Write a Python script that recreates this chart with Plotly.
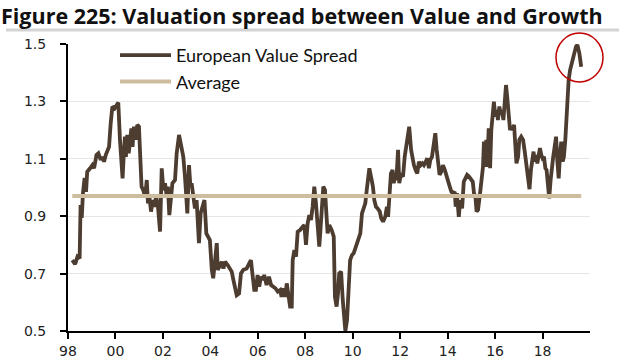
import plotly.graph_objects as go

# ---- data ----
years = [
 1998.18,1998.30,1998.40,1998.49,1998.53,1998.58,1998.63,1998.70,1998.76,1998.81,1998.93,
 1999.03,1999.10,1999.20,1999.28,1999.38,1999.45,1999.52,1999.59,1999.66,1999.73,1999.80,1999.87,1999.97,
 2000.04,2000.12,2000.19,2000.26,2000.30,2000.36,2000.40,2000.44,2000.50,2000.56,2000.61,2000.67,2000.72,2000.78,2000.85,2000.92,2000.99,
 2001.06,2001.10,2001.17,2001.25,2001.32,2001.37,2001.43,2001.50,2001.57,2001.64,2001.71,2001.78,2001.88,2001.95,
 2002.02,2002.09,2002.16,2002.21,2002.27,2002.33,2002.40,2002.51,2002.58,2002.68,2002.76,2002.86,2002.93,2002.99,
 2003.03,2003.10,2003.16,2003.21,2003.28,2003.35,2003.42,2003.47,2003.52,2003.59,2003.66,2003.75,2003.83,2003.91,2003.98,
 2004.06,2004.12,2004.20,2004.27,2004.31,2004.38,2004.48,2004.55,2004.62,2004.73,2004.83,2004.90,2004.97,
 2005.04,2005.11,2005.21,2005.29,2005.39,2005.53,2005.67,2005.71,2005.77,2005.85,2005.92,2005.99,
 2006.06,2006.13,2006.20,2006.27,2006.37,2006.47,2006.56,2006.65,2006.74,2006.84,2006.94,
 2007.00,2007.07,2007.15,2007.22,2007.28,2007.36,2007.43,2007.47,2007.54,2007.61,2007.68,2007.78,2007.89,2007.96,
 2008.03,2008.10,2008.17,2008.24,2008.31,2008.38,2008.45,2008.52,2008.59,2008.63,2008.70,2008.76,2008.83,2008.89,2008.94,
 2009.01,2009.11,2009.20,2009.25,2009.32,2009.38,2009.43,2009.51,2009.58,2009.65,2009.69,2009.76,2009.83,2009.89,2009.97,
 2010.04,2010.11,2010.18,2010.25,2010.32,2010.39,2010.46,2010.53,2010.59,2010.64,2010.70,2010.80,2010.85,2010.91,2010.98,
 2011.05,2011.14,2011.20,2011.28,2011.37,2011.44,2011.49,2011.54,2011.61,2011.68,2011.73,2011.79,2011.84,2011.91,2011.96,
 2012.03,2012.12,2012.19,2012.26,2012.33,2012.38,2012.46,2012.51,2012.58,2012.65,2012.72,2012.79,2012.87,2012.94,
 2013.00,2013.08,2013.14,2013.21,2013.27,2013.34,2013.41,2013.48,2013.54,2013.59,2013.66,2013.73,2013.80,2013.88,2013.95,
 2014.02,2014.09,2014.16,2014.23,2014.30,2014.34,2014.39,2014.47,2014.53,2014.61,2014.68,2014.74,2014.82,2014.90,
 2015.06,2015.11,2015.17,2015.22,2015.28,2015.35,2015.42,2015.49,2015.53,2015.59,2015.63,2015.67,2015.73,2015.79,2015.84,2015.90,2015.95,
 2016.01,2016.07,2016.12,2016.18,2016.24,2016.29,2016.35,2016.40,2016.46,2016.51,2016.57,2016.63,2016.68,2016.74,2016.80,2016.85,2016.90,2016.97,
 2017.02,2017.10,2017.18,2017.25,2017.32,2017.39,2017.45,2017.51,2017.56,2017.62,2017.67,2017.73,2017.78,2017.84,2017.89,2017.95,
 2018.00,2018.06,2018.12,2018.17,2018.23,2018.28,2018.34,2018.40,2018.45,2018.51,2018.57,2018.62,2018.68,2018.74,2018.79,2018.85,2018.90,2018.96,
 2019.00,2019.04,2019.10,2019.16,2019.24,2019.32,2019.41,2019.47,2019.55,2019.63,
]

value_spread = [
 0.747,0.733,0.759,0.753,0.939,0.894,0.980,1.033,0.985,1.055,1.067,
 1.078,1.067,1.113,1.119,1.096,1.107,1.090,1.113,1.131,1.142,1.224,1.282,1.276,
 1.287,1.296,1.166,1.067,1.032,1.131,1.177,1.107,1.183,1.119,1.166,1.206,1.142,1.212,1.166,1.218,1.212,
 1.107,1.003,0.991,0.968,1.026,0.945,0.968,0.916,0.956,0.933,0.968,0.945,0.846,1.067,
 0.991,1.015,0.968,1.003,0.904,0.968,1.015,1.026,1.119,1.183,1.154,1.107,1.038,0.968,
 0.910,1.078,1.003,1.015,0.956,0.927,0.956,0.887,0.806,0.910,0.933,0.956,0.840,0.823,0.817,
 0.713,0.684,0.747,0.806,0.713,0.724,0.741,0.718,0.741,0.730,0.713,0.707,0.678,
 0.643,0.625,0.631,0.701,0.713,0.718,0.741,0.747,0.701,0.643,0.643,0.695,
 0.654,0.689,0.678,0.695,0.660,0.689,0.660,0.654,0.649,0.637,0.643,
 0.619,0.649,0.619,0.666,0.631,0.585,0.585,0.747,0.782,0.759,0.846,0.852,0.863,0.869,
 0.800,0.875,0.904,0.887,0.933,1.003,0.945,0.863,0.794,0.840,0.933,1.003,0.991,0.910,0.840,
 0.869,0.852,0.829,0.619,0.585,0.631,0.701,0.707,0.608,0.515,0.500,0.538,0.643,0.747,0.765,
 0.771,0.788,0.806,0.829,0.840,0.910,0.927,0.945,0.991,1.038,1.067,1.026,1.003,0.956,0.933,
 0.927,0.916,0.893,0.881,0.898,0.933,0.898,0.991,1.049,1.061,1.015,1.049,1.026,1.131,1.015,
 1.044,1.038,1.107,1.154,1.177,1.212,1.131,1.102,1.078,1.061,1.049,1.090,1.078,1.084,
 1.078,1.090,1.102,1.067,1.096,1.107,1.142,1.189,1.131,1.084,1.044,1.055,1.078,1.061,1.038,
 1.020,1.003,0.985,0.980,0.985,0.933,0.980,0.898,0.956,0.927,1.020,1.032,1.044,1.038,
 1.020,0.980,0.968,0.916,0.922,0.968,1.015,1.072,1.160,1.072,1.166,1.072,1.206,1.067,1.200,1.247,1.299,
 1.247,1.270,1.235,1.282,1.253,1.270,1.235,1.293,1.357,1.316,1.247,1.200,1.212,1.206,1.218,1.142,1.084,1.107,
 1.166,1.177,1.166,1.125,1.084,1.026,0.994,1.061,1.096,1.125,1.090,1.113,1.084,1.107,1.137,1.113,
 1.102,1.107,1.067,1.061,1.015,0.962,1.026,1.084,1.107,1.142,1.177,1.096,1.032,1.119,1.160,1.090,1.107,1.166,
 1.247,1.334,1.375,1.409,1.438,1.468,1.491,1.497,1.468,1.421,
]

average_value = 0.97

tick_years = [1998, 2000, 2002, 2004, 2006, 2008, 2010, 2012, 2014, 2016, 2018]
tick_labels = ["98", "00", "02", "04", "06", "08", "10", "12", "14", "16", "18"]
y_ticks = [0.5, 0.7, 0.9, 1.1, 1.3, 1.5]

title_text = "Figure 225: Valuation spread between Value and Growth"
series_names = ["European Value Spread", "Average"]

BROWN = "#4D3C30"
TAN = "#CDBD9E"

fig = go.Figure()
fig.add_trace(go.Scatter(
    x=years, y=value_spread, mode="lines", name=series_names[0],
    legendgroup="a", line=dict(color=BROWN, width=3.8),
))
fig.add_trace(go.Scatter(
    x=[years[0], years[-1]], y=[average_value, average_value], mode="lines",
    name=series_names[1], legendgroup="b", line=dict(color=TAN, width=4),
))

L, R, T, B = 68, 50, 44, 29
W, H = 640, 360
pw, ph = W - L - R, H - T - B

def px_x(p):
    return (p - L) / pw

def px_y(p):
    return (H - B - p) / ph

fig.update_layout(
    width=W, height=H,
    margin=dict(l=L, r=R, t=T, b=B, pad=0, autoexpand=False),
    paper_bgcolor="white", plot_bgcolor="white",
    showlegend=True, hovermode=False,
    legend=dict(
        x=px_x(115), y=px_y(37), xanchor="left", yanchor="top",
        bgcolor="rgba(0,0,0,0)", borderwidth=0,
        font=dict(family="Lato", size=18, color="#111111"),
        itemwidth=51, traceorder="grouped", tracegroupgap=0,
    ),
    xaxis=dict(
        range=[1998, 2020], tickvals=tick_years, ticktext=tick_labels,
        showgrid=False, zeroline=False, automargin=False,
        showline=True, linecolor="#000000", linewidth=2,
        ticks="outside", ticklen=6, tickwidth=2, tickcolor="#000000",
        tickfont=dict(family="DejaVu Sans", size=14, color="#222222"),
        ticklabelstandoff=0,
    ),
    yaxis=dict(
        range=[0.5, 1.5], tickvals=y_ticks, ticktext=[f"{v:.1f}" for v in y_ticks],
        showgrid=True, gridcolor="#E6E6E6", gridwidth=1, zeroline=False, automargin=False,
        showline=True, linecolor="#000000", linewidth=2,
        ticks="outside", ticklen=6, tickwidth=2, tickcolor="#000000",
        tickfont=dict(family="DejaVu Sans", size=14, color="#222222"),
        ticklabelstandoff=11,
    ),
    annotations=[dict(
        text=f"<b>{title_text}</b>", xref="paper", yref="paper",
        x=px_x(0), y=px_y(0), xanchor="left", yanchor="top", borderpad=0,
        showarrow=False, font=dict(family="Open Sans", size=21.5, color="#111111"),
    )],
    shapes=[
        dict(type="line", xref="paper", yref="paper",
             x0=px_x(6), x1=px_x(619), y0=px_y(30), y1=px_y(30),
             line=dict(color="#D3D3D3", width=3)),
        dict(type="circle", xref="paper", yref="paper",
             x0=px_x(556), x1=px_x(603), y0=px_y(82), y1=px_y(33),
             line=dict(color="#C00000", width=1.5)),
    ],
)

fig.write_html(
    "out.html",
    config={"displayModeBar": False, "staticPlot": True},
    post_script="document.body.style.margin='0px';",
)
